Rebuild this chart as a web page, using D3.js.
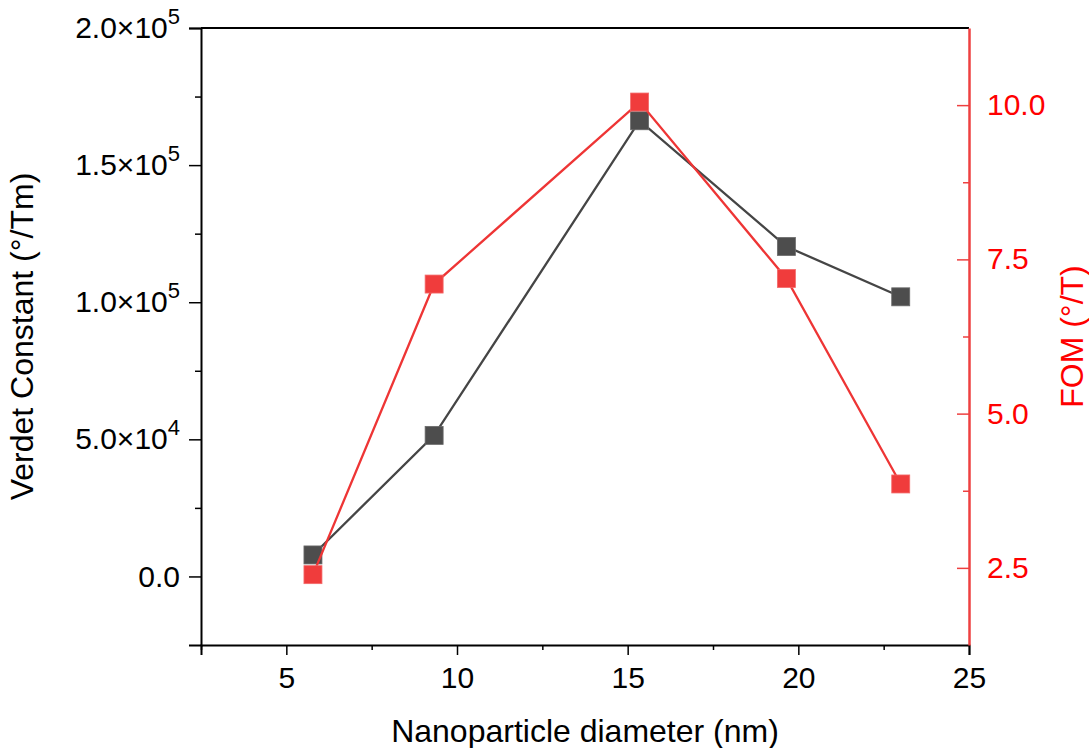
<!DOCTYPE html>
<html><head><meta charset="utf-8">
<script src="https://cdn.jsdelivr.net/npm/d3@7/dist/d3.min.js"></script>
<style>
body{margin:0;background:#fff}
svg{display:block}
text{font-family:"Liberation Sans",Arial,sans-serif}
</style>
</head><body>
<svg id="chart" width="1089" height="748"></svg>
<script>
// ---- data ----
const diameters = [5.78, 9.33, 15.35, 19.65, 23.0];
const verdet = [7840, 51440, 166180, 120320, 101970];
const fom = [2.39, 7.10, 10.05, 7.19, 3.86];

const xTicks = [5, 10, 15, 20, 25];
const xMinorTicks = [2.5, 7.5, 12.5, 17.5, 22.5];
const leftTicks = [0, 50000, 100000, 150000, 200000];
const leftTickBase = ["0.0", "5.0×10", "1.0×10", "1.5×10", "2.0×10"];
const leftTickExp = ["", "4", "5", "5", "5"];
const leftMinorTicks = [25000, 75000, 125000, 175000];
const rightTicks = [2.5, 5.0, 7.5, 10.0];
const rightTickLabels = ["2.5", "5.0", "7.5", "10.0"];
const rightMinorTicks = [3.75, 6.25, 8.75];

const xTitle = "Nanoparticle diameter (nm)";
const yLeftTitle = "Verdet Constant (°/Tm)";
const yRightTitle = "FOM (°/T)";

// ---- layout ----
const L = 201, R = 969, T = 28, B = 645;
const svg = d3.select("#chart");
svg.append("rect").attr("width", 1089).attr("height", 748).attr("fill", "#fff");

const x = d3.scaleLinear().domain([2.5, 25]).range([L, R]);
const yL = d3.scaleLinear().domain([-25000, 200000]).range([B, T]);
const yR = d3.scaleLinear().domain([1.25, 11.25]).range([B, T]);

const FS = 30;
const TFS = 32;
const RED = "#ff0000";
const RED_LINE = "#ee4040";
const FONT = "'Liberation Sans', Arial, sans-serif";

// top frame line
svg.append("line").attr("x1", L).attr("x2", R).attr("y1", T).attr("y2", T)
  .attr("stroke", "#000").attr("stroke-width", 2);

// bottom axis
const gx = svg.append("g").attr("transform", `translate(0,${B})`)
  .call(d3.axisBottom(x).tickValues(xTicks).tickSize(10).tickPadding(12).tickFormat(d3.format("d")));
const gxm = svg.append("g").attr("transform", `translate(0,${B})`)
  .call(d3.axisBottom(x).tickValues(xMinorTicks).tickSize(5).tickFormat(""));
gxm.select(".domain").remove();

// left axis
const gl = svg.append("g").attr("transform", `translate(${L},0)`)
  .call(d3.axisLeft(yL).tickValues(leftTicks).tickSize(12).tickPadding(9).tickFormat(""));
const glm = svg.append("g").attr("transform", `translate(${L},0)`)
  .call(d3.axisLeft(yL).tickValues(leftMinorTicks).tickSize(6).tickFormat(""));
glm.select(".domain").remove();
gl.selectAll(".tick text").each(function (d, i) {
  const t = d3.select(this);
  t.text(null);
  t.append("tspan").text(leftTickBase[i]);
  if (leftTickExp[i]) {
    t.append("tspan").attr("dy", -14).attr("font-size", 22).text(leftTickExp[i]);
  }
});

// right axis (inward ticks)
const gr = svg.append("g").attr("transform", `translate(${R},0)`)
  .call(d3.axisRight(yR).tickValues(rightTicks).tickSizeInner(-12).tickSizeOuter(0).tickPadding(18)
    .tickFormat((d, i) => rightTickLabels[i]));
const grm = svg.append("g").attr("transform", `translate(${R},0)`)
  .call(d3.axisRight(yR).tickValues(rightMinorTicks).tickSize(-6).tickFormat(""));
grm.select(".domain").remove();

[gx, gl].forEach(g => {
  g.selectAll(".domain").attr("stroke", "#000").attr("stroke-width", 2);
  g.selectAll(".tick text").attr("fill", "#000").attr("font-size", FS).attr("font-family", FONT);
});
[gx, gl, gxm, glm].forEach(g => g.selectAll(".tick line").attr("stroke", "#000").attr("stroke-width", 1.5));
gr.selectAll(".domain").attr("stroke", RED_LINE).attr("stroke-width", 2.5);
[gr, grm].forEach(g => g.selectAll(".tick line").attr("stroke", RED_LINE).attr("stroke-width", 1.5));
gr.selectAll(".tick text").attr("fill", RED).attr("font-size", FS).attr("font-family", FONT);

// ---- series ----
const ptsV = diameters.map((d, i) => [x(d), yL(verdet[i])]);
const ptsF = diameters.map((d, i) => [x(d), yR(fom[i])]);
const line = d3.line();
const S = 18;

svg.append("path").attr("d", line(ptsV)).attr("fill", "none")
  .attr("stroke", "#454545").attr("stroke-width", 2.3);
svg.selectAll(".mv").data(ptsV).enter().append("rect")
  .attr("x", p => p[0] - S / 2).attr("y", p => p[1] - S / 2)
  .attr("width", S).attr("height", S).attr("fill", "#4d4d4d")
  .attr("stroke", "#6a6a6a").attr("stroke-width", 0.8);

svg.append("path").attr("d", line(ptsF)).attr("fill", "none")
  .attr("stroke", "#ee3535").attr("stroke-width", 2.3);
svg.selectAll(".mf").data(ptsF).enter().append("rect")
  .attr("x", p => p[0] - S / 2).attr("y", p => p[1] - S / 2)
  .attr("width", S).attr("height", S).attr("fill", "#f03c3c")
  .attr("stroke", "#f36a6a").attr("stroke-width", 0.8);

// ---- titles ----
svg.append("text").attr("x", (L + R) / 2).attr("y", 742).attr("text-anchor", "middle")
  .attr("font-size", TFS).attr("fill", "#000").text(xTitle);
svg.append("text").attr("transform", `translate(33,${(T + B) / 2}) rotate(-90)`)
  .attr("text-anchor", "middle").attr("font-size", TFS).attr("fill", "#000").text(yLeftTitle);
svg.append("text").attr("transform", `translate(1083,${(T + B) / 2}) rotate(-90)`)
  .attr("text-anchor", "middle").attr("font-size", TFS).attr("fill", RED).text(yRightTitle);
</script>
</body></html>
